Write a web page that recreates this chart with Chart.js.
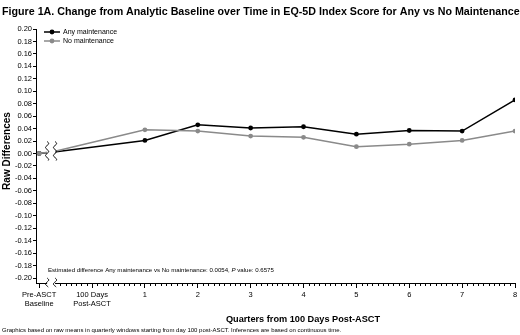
<!DOCTYPE html>
<html>
<head>
<meta charset="utf-8">
<script src="https://cdn.jsdelivr.net/npm/chart.js@4"></script>
<style>
  html, body { margin: 0; padding: 0; background: #fff; }
  #chartOne { display: block; }
</style>
</head>
<body>
<canvas id="chartOne" width="520" height="335"></canvas>
<script>
// data
const quarterPos = [-1, -0.68, 1, 2, 3, 4, 5, 6, 7, 8];
const anyMaint = [0.000, 0.003, 0.021, 0.046, 0.041, 0.043, 0.031, 0.037, 0.036, 0.086];
const noMaint = [0.000, 0.004, 0.038, 0.036, 0.028, 0.026, 0.011, 0.015, 0.021, 0.036];
const seriesNames = ['Any maintenance', 'No maintenance'];

const tickValues = [-1, 0, 1, 2, 3, 4, 5, 6, 7, 8];
const tickLabels = [['Pre-ASCT', 'Baseline'], ['100 Days', 'Post-ASCT'], '1', '2', '3', '4', '5', '6', '7', '8'];
const yTicks = [-0.20, -0.18, -0.16, -0.14, -0.12, -0.10, -0.08, -0.06, -0.04, -0.02, 0.00,
                0.02, 0.04, 0.06, 0.08, 0.10, 0.12, 0.14, 0.16, 0.18, 0.20];
const breakAt = [-0.85, -0.70];

const FONT = "Arial, 'Liberation Sans', sans-serif";
const GRAY = '#8a8a8a';

function toPoints(vals) {
    return vals.map((v, i) => ({ x: quarterPos[i], y: v }));
}

// little wavy line for the axis breaks
function squiggle(ctx, x, y0, y1) {
    ctx.beginPath();
    for (let y = y0; y <= y1; y += 0.5) {
        let xx = x + 1.6 * Math.sin((y - y0) / 4 * Math.PI);
        if (y === y0) ctx.moveTo(xx, y); else ctx.lineTo(xx, y);
    }
    ctx.stroke();
}

const extras = {
    id: 'extras',
    afterDraw(chart) {
        const ctx = chart.ctx;
        const xs = chart.scales.x, ys = chart.scales.y;
        const area = chart.chartArea;
        ctx.save();

        // minor ticks on the x axis
        ctx.strokeStyle = '#000';
        ctx.lineWidth = 1;
        ctx.beginPath();
        for (let k = -6; k <= 80; k++) {
            if (k % 10 === 0) continue;
            let px = Math.round(xs.getPixelForValue(k / 10)) + 0.5;
            ctx.moveTo(px, area.bottom);
            ctx.lineTo(px, area.bottom + 3);
        }
        ctx.stroke();

        // axis breaks
        const b0 = xs.getPixelForValue(breakAt[0]);
        const b1 = xs.getPixelForValue(breakAt[1]);
        const y0 = ys.getPixelForValue(0);
        ctx.fillStyle = '#fff';
        ctx.fillRect(b0, y0 - 12, b1 - b0, 24);
        ctx.fillRect(b0, area.bottom - 5, b1 - b0, 10);
        ctx.strokeStyle = '#000';
        ctx.lineWidth = 1;
        squiggle(ctx, b0, y0 - 12, y0 + 7);
        squiggle(ctx, b1, y0 - 12, y0 + 7);
        squiggle(ctx, b0, area.bottom - 5, area.bottom + 4);
        squiggle(ctx, b1, area.bottom - 5, area.bottom + 4);

        // legend
        const leg = [[seriesNames[0], '#000', 32], [seriesNames[1], GRAY, 41]];
        leg.forEach(l => {
            ctx.strokeStyle = l[1];
            ctx.fillStyle = l[1];
            ctx.lineWidth = 1.5;
            ctx.beginPath();
            ctx.moveTo(44, l[2]);
            ctx.lineTo(60, l[2]);
            ctx.stroke();
            ctx.beginPath();
            ctx.arc(52, l[2], 2.4, 0, Math.PI * 2);
            ctx.fill();
            ctx.fillStyle = '#000';
            ctx.font = '7px ' + FONT;
            ctx.textBaseline = 'middle';
            ctx.fillText(l[0], 63, l[2]);
        });

        // title
        ctx.fillStyle = '#000';
        ctx.textBaseline = 'alphabetic';
        ctx.font = 'bold 10.7px ' + FONT;
        ctx.fillText('Figure 1A. Change from Analytic Baseline over Time in EQ-5D Index Score for Any vs No Maintenance', 2, 15);

        // y axis title
        ctx.save();
        ctx.translate(10, 151);
        ctx.rotate(-Math.PI / 2);
        ctx.font = 'bold 10px ' + FONT;
        ctx.textAlign = 'center';
        ctx.fillText('Raw Differences', 0, 0);
        ctx.restore();

        // x axis title
        ctx.font = 'bold 9.2px ' + FONT;
        ctx.textAlign = 'center';
        ctx.fillText('Quarters from 100 Days Post-ASCT', 303, 322);

        // estimate annotation
        ctx.textAlign = 'left';
        ctx.font = '6.1px ' + FONT;
        let tx = 48, ty = 272;
        let s1 = 'Estimated difference Any maintenance vs No maintenance: 0.0054, ';
        ctx.fillText(s1, tx, ty);
        tx += ctx.measureText(s1).width;
        ctx.font = 'italic 6.1px ' + FONT;
        ctx.fillText('P', tx, ty);
        tx += ctx.measureText('P').width;
        ctx.font = '6.1px ' + FONT;
        ctx.fillText(' value: 0.6575', tx, ty);

        // footnote
        ctx.font = '6px ' + FONT;
        ctx.fillText('Graphics based on raw means in quarterly windows starting from day 100 post-ASCT. Inferences are based on continuous time.', 2, 332);

        ctx.restore();
    }
};

var ctx = document.getElementById('chartOne').getContext('2d');
var chartOne = new Chart(ctx, {
    type: 'line',
    data: {
        datasets: [{
            label: seriesNames[1],
            data: toPoints(noMaint),
            borderColor: GRAY,
            backgroundColor: GRAY,
            borderWidth: 1.5,
            pointRadius: quarterPos.map((q, i) => i === 1 ? 0 : 2.4),
            pointBorderWidth: 0,
            tension: 0
        }, {
            label: seriesNames[0],
            data: toPoints(anyMaint),
            borderColor: '#000',
            backgroundColor: '#000',
            borderWidth: 1.5,
            pointRadius: quarterPos.map((q, i) => i === 1 ? 0 : 2.4),
            pointBorderWidth: 0,
            tension: 0
        }]
    },
    options: {
        responsive: false,
        animation: false,
        layout: { padding: { top: 29, right: 5, left: 0, bottom: 0 } },
        plugins: {
            legend: { display: false },
            tooltip: { enabled: false }
        },
        scales: {
            x: {
                type: 'linear',
                min: -1.06,
                max: 8,
                afterBuildTicks: function(scale) {
                    scale.ticks = tickValues.map(v => ({ value: v }));
                },
                afterFit: function(scale) { scale.height = 52; },
                grid: { drawOnChartArea: false, tickLength: 5, color: '#000' },
                border: { color: '#000', width: 1 },
                ticks: {
                    autoSkip: false,
                    maxRotation: 0,
                    padding: 2,
                    color: '#000',
                    font: { family: FONT, size: 7.5 },
                    callback: function(value) {
                        let i = tickValues.indexOf(value);
                        return i >= 0 ? tickLabels[i] : '';
                    }
                }
            },
            y: {
                min: -0.208,
                max: 0.20,
                afterBuildTicks: function(scale) {
                    scale.ticks = yTicks.map(v => ({ value: v }));
                },
                afterFit: function(scale) { scale.width = 36; },
                grid: { drawOnChartArea: false, tickLength: 3, color: '#000' },
                border: { color: '#000', width: 1 },
                ticks: {
                    padding: 1,
                    color: '#000',
                    font: { family: FONT, size: 7.5 },
                    callback: function(value) { return value.toFixed(2); }
                }
            }
        }
    },
    plugins: [extras]
});
</script>
</body>
</html>
